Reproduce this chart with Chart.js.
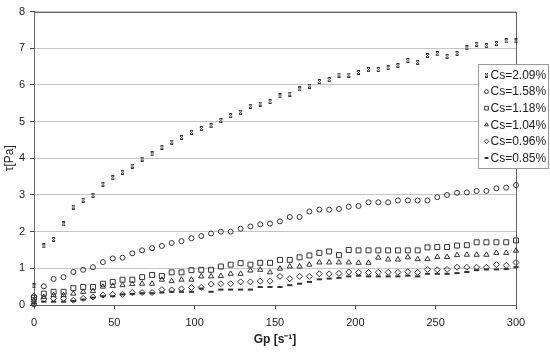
<!DOCTYPE html>
<html lang="en">
<head>
  <meta charset="UTF-8">
  <title>Shear stress vs shear rate</title>
  <style>
    body { margin: 0; background: #fff; }
  </style>
</head>
<body>
<canvas id="chart" width="550" height="354"></canvas>

<script src="https://cdn.jsdelivr.net/npm/chart.js"></script>
<script>
// shear rate Gp [1/s]
const shearRate = [0, 6.1, 12.2, 18.4, 24.5, 30.6, 36.7, 42.9, 49.0, 55.1,
  61.2, 67.3, 73.5, 79.6, 85.7, 91.8, 98.0, 104.1, 110.2, 116.3,
  122.4, 128.6, 134.7, 140.8, 146.9, 153.1, 159.2, 165.3, 171.4, 177.6,
  183.7, 189.8, 195.9, 202.0, 208.2, 214.3, 220.4, 226.5, 232.7, 238.8,
  244.9, 251.0, 257.1, 263.3, 269.4, 275.5, 281.6, 287.8, 293.9, 300];

// shear stress tau [Pa] for each concentration
const cs209 = [0.52, 1.61, 1.79, 2.21, 2.67, 2.86, 2.99, 3.29, 3.47, 3.62,
  3.79, 3.98, 4.12, 4.30, 4.44, 4.57, 4.71, 4.81, 4.89, 5.03,
  5.16, 5.26, 5.42, 5.48, 5.55, 5.70, 5.75, 5.89, 5.97, 6.09,
  6.15, 6.27, 6.27, 6.34, 6.42, 6.42, 6.47, 6.53, 6.67, 6.62,
  6.80, 6.85, 6.78, 6.86, 7.01, 7.11, 7.07, 7.13, 7.20, 7.20];
const cs158 = [0.02, 0.51, 0.71, 0.76, 0.90, 0.96, 1.03, 1.17, 1.27, 1.29,
  1.41, 1.49, 1.55, 1.61, 1.69, 1.74, 1.82, 1.88, 1.95, 2.00,
  2.00, 2.08, 2.14, 2.20, 2.22, 2.28, 2.40, 2.40, 2.55, 2.60,
  2.60, 2.62, 2.68, 2.70, 2.80, 2.80, 2.80, 2.85, 2.85, 2.85,
  2.85, 2.94, 3.00, 3.06, 3.07, 3.11, 3.11, 3.18, 3.20, 3.27];
const cs118 = [0.20, 0.31, 0.36, 0.36, 0.46, 0.49, 0.49, 0.58, 0.63, 0.69,
  0.69, 0.76, 0.82, 0.79, 0.89, 0.89, 0.95, 0.96, 0.96, 1.05,
  1.10, 1.14, 1.10, 1.15, 1.15, 1.23, 1.23, 1.30, 1.35, 1.42,
  1.46, 1.36, 1.50, 1.49, 1.49, 1.49, 1.49, 1.49, 1.49, 1.49,
  1.57, 1.58, 1.58, 1.62, 1.63, 1.71, 1.71, 1.71, 1.71, 1.76];
const cs104 = [0.13, 0.22, 0.27, 0.27, 0.31, 0.36, 0.38, 0.50, 0.52, 0.54,
  0.57, 0.58, 0.58, 0.69, 0.65, 0.69, 0.69, 0.78, 0.78, 0.79,
  0.85, 0.85, 0.94, 0.96, 0.89, 0.99, 1.05, 1.05, 1.10, 1.16,
  1.16, 1.16, 1.16, 1.15, 1.15, 1.29, 1.24, 1.24, 1.30, 1.25,
  1.25, 1.31, 1.31, 1.36, 1.37, 1.37, 1.37, 1.42, 1.42, 1.48];
const cs096 = [0.24, 0.16, 0.18, 0.18, 0.13, 0.18, 0.22, 0.27, 0.29, 0.29,
  0.34, 0.34, 0.34, 0.42, 0.41, 0.44, 0.48, 0.48, 0.57, 0.58,
  0.58, 0.63, 0.63, 0.65, 0.65, 0.78, 0.72, 0.78, 0.78, 0.85,
  0.85, 0.86, 0.90, 0.89, 0.89, 0.89, 0.89, 0.89, 0.91, 0.89,
  0.97, 0.96, 0.97, 1.03, 1.03, 1.03, 1.03, 1.10, 1.08, 1.16];
const cs085 = [0.04, 0.09, 0.09, 0.09, 0.11, 0.15, 0.20, 0.24, 0.24, 0.29,
  0.30, 0.32, 0.32, 0.34, 0.36, 0.36, 0.36, 0.45, 0.36, 0.42,
  0.42, 0.42, 0.42, 0.49, 0.49, 0.49, 0.54, 0.58, 0.63, 0.70,
  0.72, 0.74, 0.78, 0.80, 0.78, 0.78, 0.78, 0.78, 0.80, 0.78,
  0.85, 0.85, 0.85, 0.87, 0.90, 0.95, 0.97, 0.97, 0.98, 1.03];

const seriesLabels = ['Cs=2.09%', 'Cs=1.58%', 'Cs=1.18%', 'Cs=1.04%', 'Cs=0.96%', 'Cs=0.85%'];
const seriesValues = [cs209, cs158, cs118, cs104, cs096, cs085];

const ink = '#222';
const markInk = '#333';
const font = '"Liberation Sans", Arial, sans-serif';

// excel-like "x" marker (small hourglass)
function bowtie(size) {
  const c = document.createElement('canvas');
  c.width = size; c.height = size;
  const g = c.getContext('2d');
  const e = size - 1;
  g.strokeStyle = markInk;
  g.lineWidth = 1;
  g.beginPath();
  g.moveTo(1, 1); g.lineTo(e, e);
  g.moveTo(e, 1); g.lineTo(1, e);
  g.moveTo(1, 0.5); g.lineTo(e, 0.5);
  g.moveTo(1, size - 0.5); g.lineTo(e, size - 0.5);
  g.stroke();
  return c;
}

const markers = [
  { pointStyle: bowtie(5), legendStyle: bowtie(5), radius: 3, borderWidth: 1 },
  { pointStyle: 'circle', radius: 2.5, borderWidth: 1 },
  { pointStyle: 'rect', radius: 3.5, borderWidth: 1 },
  { pointStyle: 'triangle', radius: 3, borderWidth: 1 },
  { pointStyle: 'rectRot', radius: 3, borderWidth: 1 },
  { pointStyle: 'line', radius: 2.6, borderWidth: 2 }
];

const datasets = seriesLabels.map(function (label, i) {
  return {
    label: label,
    data: shearRate.map(function (x, j) { return { x: x, y: seriesValues[i][j] }; }),
    showLine: false,
    clip: false,
    pointStyle: markers[i].pointStyle,
    pointRadius: markers[i].radius,
    pointHoverRadius: markers[i].radius,
    pointBorderWidth: markers[i].borderWidth,
    pointBorderColor: markInk,
    pointBackgroundColor: 'rgba(0,0,0,0)'
  };
});

// box around the plot area
const frame = {
  id: 'frame',
  beforeDatasetsDraw(chart) {
    const a = chart.chartArea, ctx = chart.ctx;
    ctx.save();
    ctx.strokeStyle = '#666';
    ctx.lineWidth = 1;
    ctx.strokeRect(Math.round(a.left) + 0.5, Math.round(a.top) + 0.5,
      Math.round(a.right - a.left), Math.round(a.bottom - a.top));
    ctx.restore();
  }
};

// legend box sitting over the right edge like in the original
const boxLegend = {
  id: 'boxLegend',
  afterDraw(chart) {
    const ctx = chart.ctx;
    const x0 = 478.5, y0 = 64.5, w = 70, h = 104, step = 16.6;
    ctx.save();
    ctx.fillStyle = '#fff';
    ctx.strokeStyle = '#999';
    ctx.lineWidth = 1;
    ctx.fillRect(x0, y0, w, h);
    ctx.strokeRect(x0, y0, w, h);
    ctx.font = '12px ' + font;
    ctx.textBaseline = 'middle';
    chart.data.datasets.forEach(function (ds, i) {
      const y = y0 + 10.5 + i * step;
      const m = markers[i];
      ctx.strokeStyle = markInk;
      ctx.fillStyle = 'rgba(0,0,0,0)';
      ctx.lineWidth = m.borderWidth;
      Chart.helpers.drawPoint(ctx, {
        pointStyle: m.legendStyle || m.pointStyle, radius: m.radius * 0.75,
        borderWidth: m.borderWidth, rotation: 0
      }, x0 + 8, y);
      ctx.fillStyle = ink;
      ctx.fillText(ds.label, x0 + 12, y + 0.5);
    });
    ctx.restore();
  }
};

new Chart(document.getElementById('chart'), {
  type: 'scatter',
  data: { datasets: datasets },
  options: {
    responsive: false,
    animation: false,
    devicePixelRatio: 1,
    layout: { padding: { left: 0, top: 7, right: 34, bottom: 0 } },
    plugins: {
      legend: { display: false },
      tooltip: { enabled: false }
    },
    scales: {
      x: {
        type: 'linear',
        min: 0,
        max: 300,
        afterFit: function (s) { s.height = 49; },
        ticks: { stepSize: 50, color: ink, padding: 7, font: { family: font, size: 11 }, maxRotation: 0 },
        grid: { drawOnChartArea: false, drawTicks: true, tickLength: 4, tickColor: '#444' },
        border: { color: '#444', width: 1 },
        title: {
          display: true,
          text: 'Gp [s\u207B\u00B9]',
          color: ink,
          font: { family: font, size: 12, weight: 'bold' },
          padding: { top: 0, bottom: 7 }
        }
      },
      y: {
        type: 'linear',
        min: 0,
        max: 8,
        afterFit: function (s) { s.width = 34; },
        ticks: { stepSize: 1, color: ink, padding: 5, font: { family: font, size: 11 } },
        grid: { color: '#c4c4c4', lineWidth: 1, drawTicks: true, tickLength: 4, tickColor: '#444' },
        border: { color: '#444', width: 1 },
        title: {
          display: true,
          text: '\u03C4[Pa]',
          color: ink,
          font: { family: font, size: 12 },
          padding: { top: 2, bottom: 0 }
        }
      }
    }
  },
  plugins: [frame, boxLegend]
});
</script>
</body>
</html>
